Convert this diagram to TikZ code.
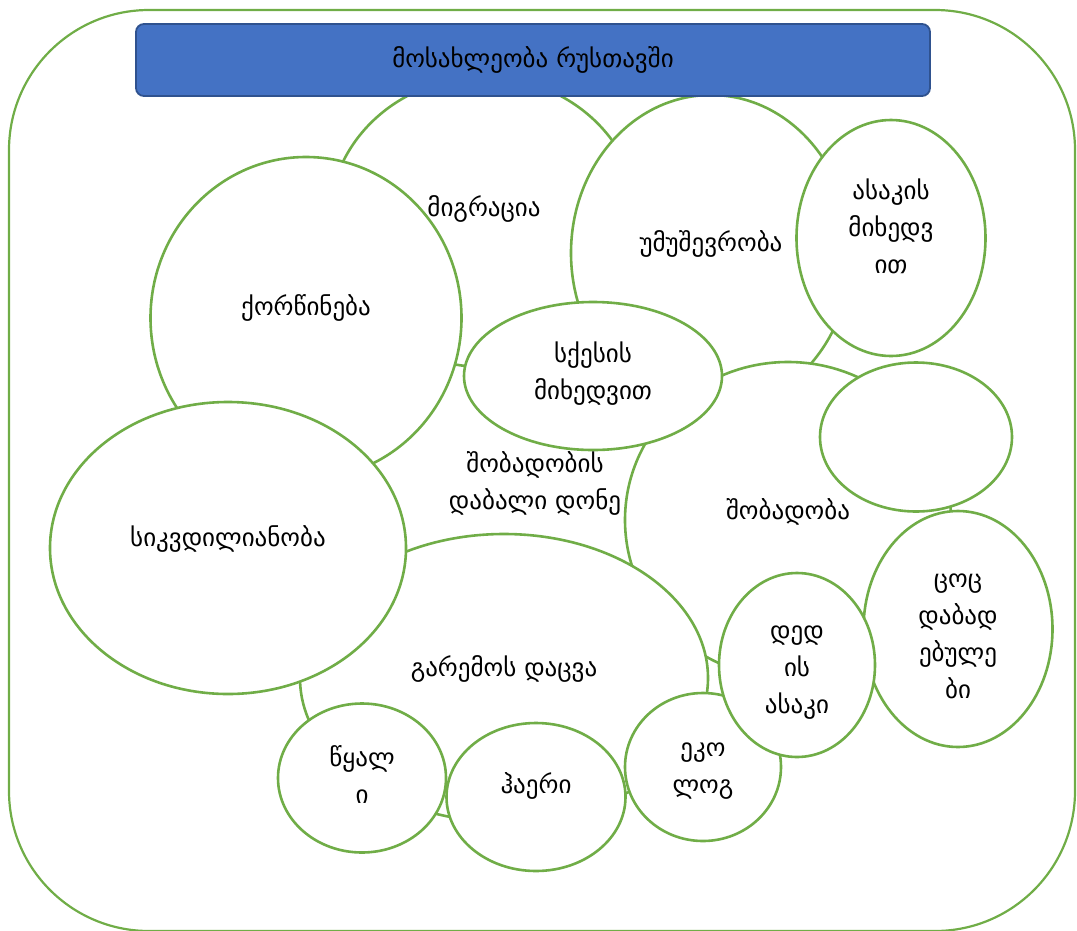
\documentclass[tikz,border=0pt]{standalone}
\usepackage{fontspec}
\setmainfont{DejaVu Sans}
\usepackage{tikz}
\usetikzlibrary{shapes.geometric}
\definecolor{bubgreen}{HTML}{70AD47}
\definecolor{titleblue}{HTML}{4472C4}
\definecolor{titleedge}{HTML}{2F528F}
\tikzset{
  outerbox/.style={draw=bubgreen, line width=2.2pt, rounded corners=140pt},
  titlebox/.style={draw=titleedge, fill=titleblue, line width=1.8pt, rounded corners=8pt, minimum width=794pt, minimum height=72pt, font=\fontsize{25}{37}\selectfont},
  bubble/.style={ellipse, draw=bubgreen, fill=white, line width=2.6pt, inner sep=0pt, align=center, font=\fontsize{25}{37}\selectfont},
  textlift/.style={text height=0pt, text depth=#1},
  textsink/.style={text height=#1, text depth=0pt},
  freetext/.style={align=center, font=\fontsize{25}{37}\selectfont}
}
\begin{document}
\begin{tikzpicture}[x=1pt, y=-1pt]
  \useasboundingbox (0,0) rectangle (1077,930);
  \draw[outerbox] (9,10) rectangle (1075,931);
  % upper group
  \node[bubble, textlift=12pt, minimum width=310pt, minimum height=290pt] (migration) at (484,222) {მიგრაცია};
  \node[bubble, textlift=6pt, minimum width=311pt, minimum height=322pt] (marriage) at (306,318) {ქორწინება};
  \node[bubble, textlift=4pt, minimum width=280pt, minimum height=316pt] (unemploy) at (711,253) {უმუშევრობა};
  \node[bubble, textsink=70pt, minimum width=189pt, minimum height=236pt] (byage) at (891,238) {ასაკის\\მიხედვ\\ით};
  % birth rate group
  \node[bubble, textlift=2pt, minimum width=326pt, minimum height=316pt] (birth) at (788,520) {შობადობა};
  \node[bubble, minimum width=192pt, minimum height=149pt] (blank) at (916,437) {};
  \node[bubble, textsink=138pt, minimum width=189pt, minimum height=236pt] (liveborn) at (958,629) {ცოც\\დაბად\\ებულე\\ბი};
  \node[bubble, textsink=46pt, minimum width=258pt, minimum height=148pt] (bysex) at (593,376) {სქესის\\მიხედვით};
  % environment group
  \node[bubble, textlift=4pt, minimum width=408pt, minimum height=288pt] (environ) at (504,678) {გარემოს დაცვა};
  \node[bubble, textlift=4pt, minimum width=356pt, minimum height=292pt] (mortality) at (228,548) {სიკვდილიანობა};
  \node[bubble, textsink=50pt, minimum width=168pt, minimum height=149pt] (water) at (362,778) {წყალ\\ი};
  \node[bubble, textlift=8pt, minimum width=179pt, minimum height=148pt] (air) at (536,797) {ჰაერი};
  \node[bubble, textsink=52pt, minimum width=156pt, minimum height=148pt] (ecology) at (703,767) {ეკო\\ლოგ};
  \node[bubble, textsink=96pt, minimum width=156pt, minimum height=184pt] (motherage) at (797,665) {დედ\\ის\\ასაკი};
  \node[freetext] (lowbirth) at (535,483) {შობადობის\\დაბალი დონე};
  % title on top
  \node[titlebox] (title) at (533,60) {მოსახლეობა რუსთავში};
\end{tikzpicture}
\end{document}
